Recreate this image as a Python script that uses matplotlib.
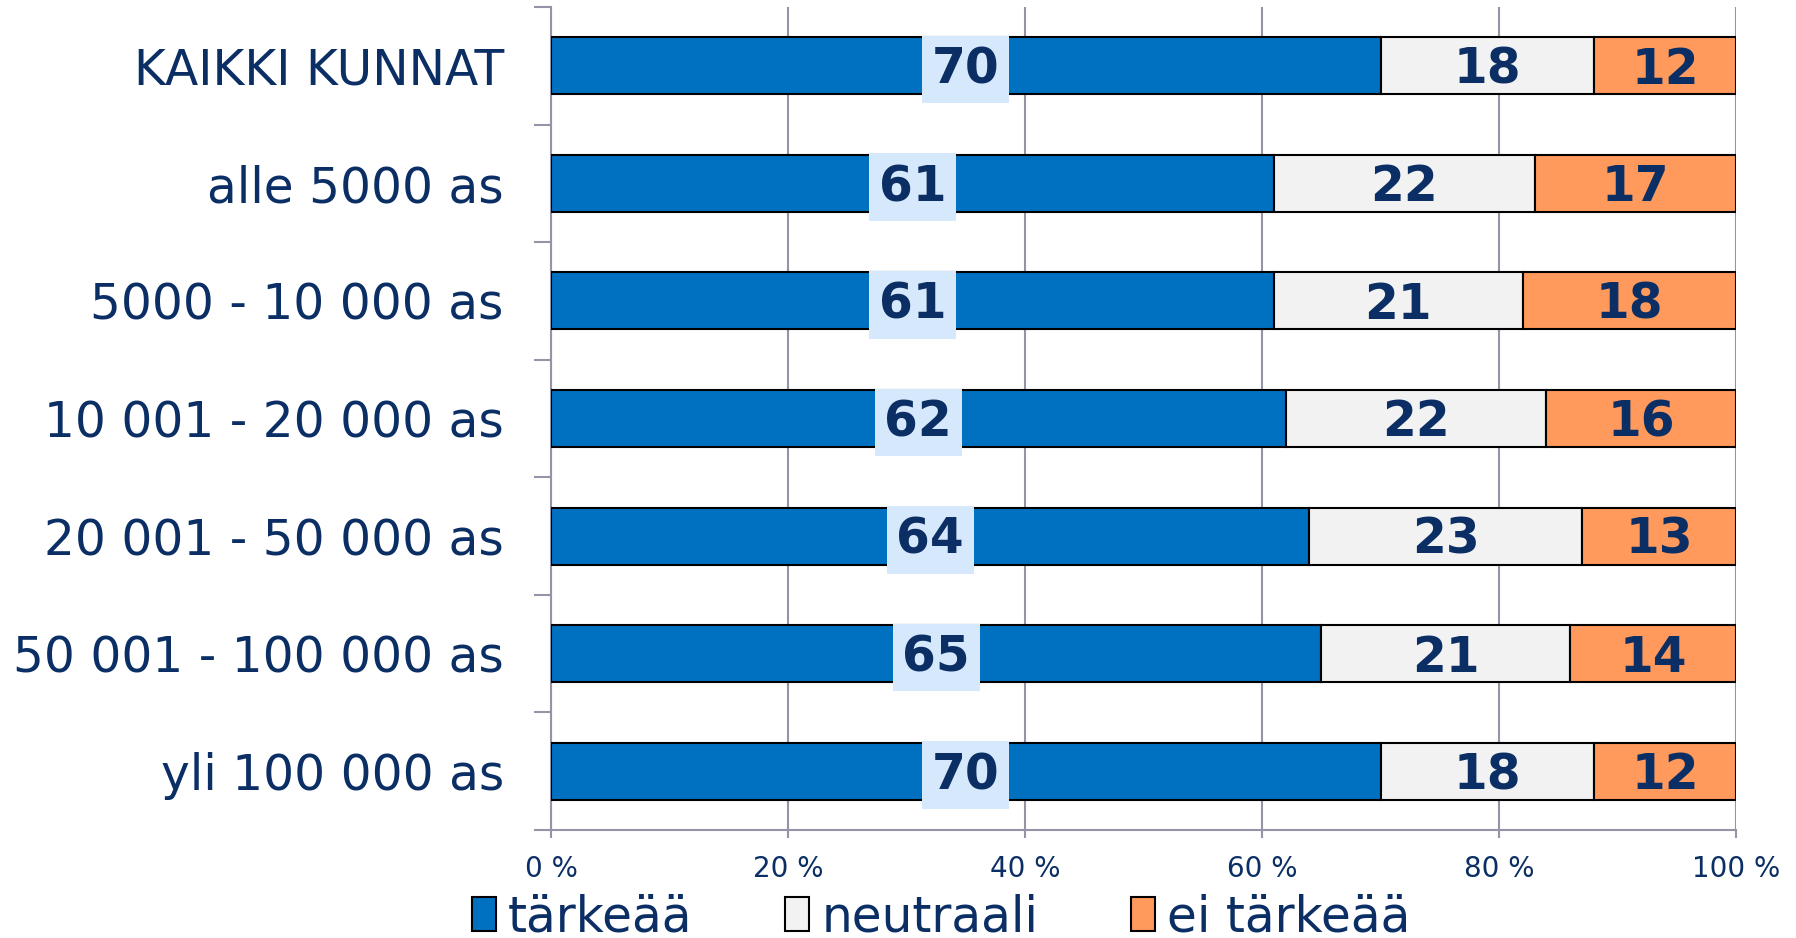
import numpy as np
import matplotlib.pyplot as plt
from matplotlib.ticker import FixedLocator

# Data
categories = [
    "KAIKKI KUNNAT",
    "alle 5000 as",
    "5000 - 10 000 as",
    "10 001 - 20 000 as",
    "20 001 - 50 000 as",
    "50 001 - 100 000 as",
    "yli 100 000 as",
]
tarkeaa = [70, 61, 61, 62, 64, 65, 70]
neutraali = [18, 22, 21, 22, 23, 21, 18]
ei_tarkeaa = [12, 17, 18, 16, 13, 14, 12]
series_names = ["tärkeää", "neutraali", "ei tärkeää"]
x_ticks = [0, 20, 40, 60, 80, 100]

# Styles
NAVY = "#0b2f64"
GRID = "#9494a6"
colors = ["#0070c0", "#f2f2f2", "#ff9a5c"]

plt.rcParams["font.family"] = "DejaVu Sans"

fig = plt.figure(figsize=(17.96, 9.38), dpi=100)
ax = fig.add_axes([0.3068, 0.1151, 0.6598, 0.8774])

y = np.arange(len(categories))
series = [tarkeaa, neutraali, ei_tarkeaa]
left = np.zeros(len(categories))
bar_h = 0.485
for vals, col, name in zip(series, colors, series_names):
    vals = np.array(vals, dtype=float)
    ax.barh(y, vals, left=left, height=bar_h, color=col, edgecolor="black",
            linewidth=1.5, label=name, zorder=3)
    for yi, l, v in zip(y, left, vals):
        kw = {}
        if name == "tärkeää":
            kw["bbox"] = dict(boxstyle="square,pad=0.2", fc="#d6e8fb", ec="none")
        ax.text(l + v / 2, yi - 0.01, f"{int(v)}", ha="center", va="center_baseline",
                fontsize=35, fontweight="bold", color=NAVY, zorder=5, **kw)
    left += vals

ax.set_xlim(0, 100)
ax.set_ylim(len(categories) - 0.5, -0.5)

ax.set_xticks(x_ticks)
ax.set_xticklabels([f"{t} %" for t in x_ticks], fontsize=20, color=NAVY)
ax.set_yticks(y)
ax.set_yticklabels(categories, fontsize=35, color=NAVY)
ax.yaxis.set_minor_locator(FixedLocator(np.arange(-0.5, len(categories), 1.0)))

ax.tick_params(axis="y", which="major", length=0, pad=34)
ax.tick_params(axis="y", which="minor", length=12, width=1.5, color=GRID)
ax.tick_params(axis="x", which="major", length=6, width=1.5, color=GRID, pad=12)

ax.grid(axis="x", color=GRID, linewidth=1.5, zorder=0)
ax.set_axisbelow(True)
for s in ["top", "right"]:
    ax.spines[s].set_visible(False)
for s in ["left", "bottom"]:
    ax.spines[s].set_color(GRID)
    ax.spines[s].set_linewidth(1.5)

leg = fig.legend(loc="center", bbox_to_anchor=(0.524, 0.022), ncol=3,
                 frameon=False, fontsize=35, handlelength=0.5, handleheight=0.7,
                 handletextpad=0.25, columnspacing=1.9, labelcolor=NAVY)

fig.savefig("out.png", dpi=100)
